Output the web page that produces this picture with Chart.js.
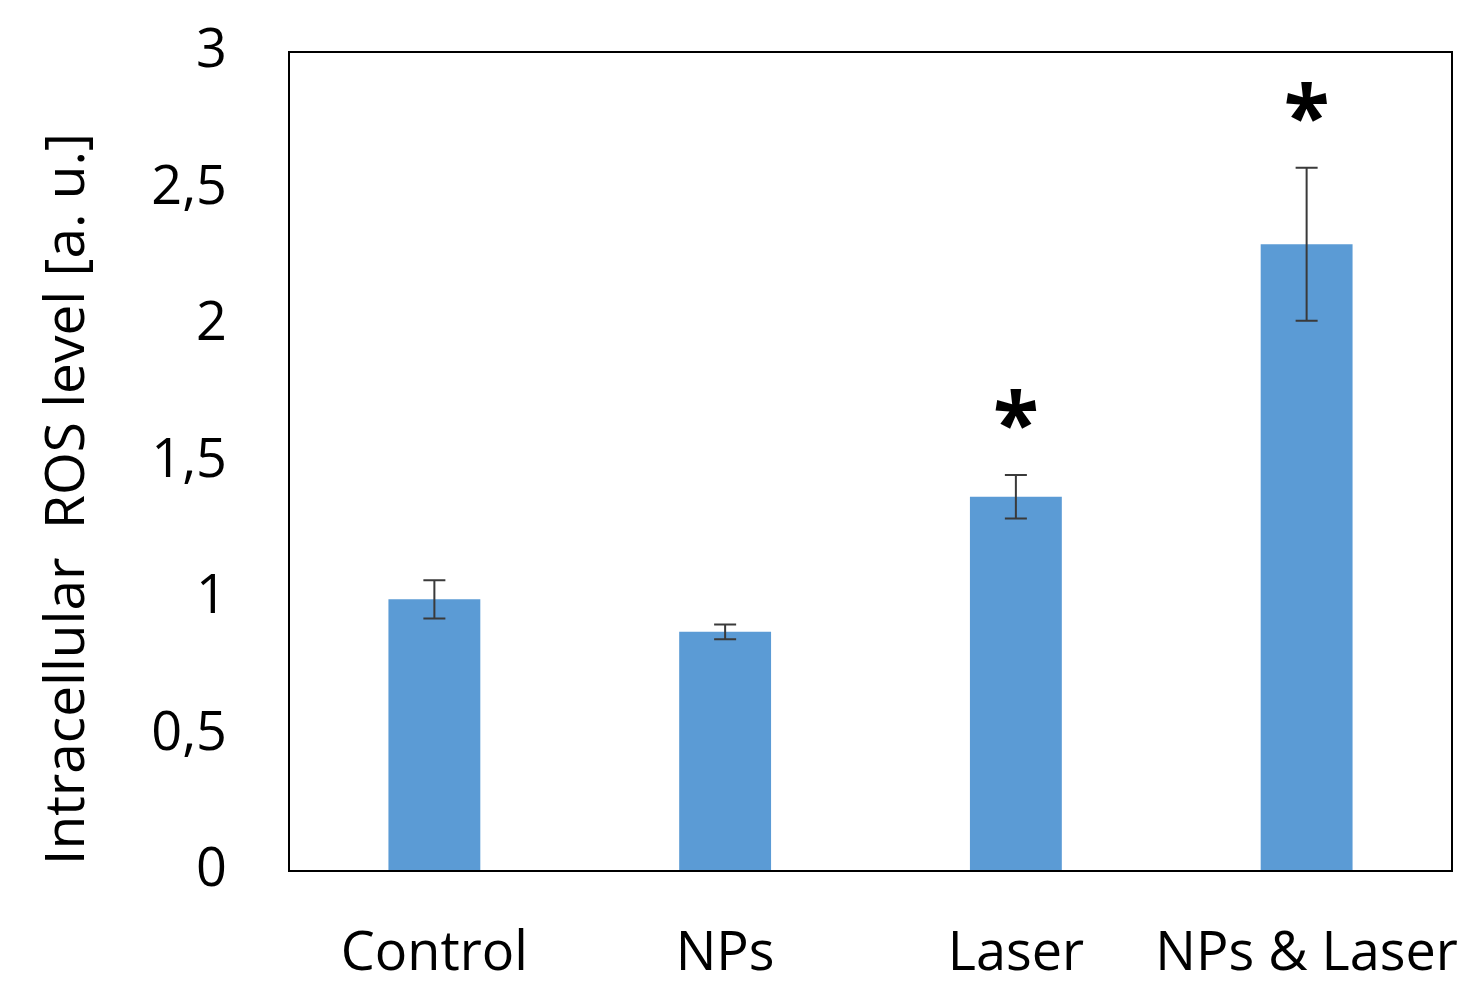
<!DOCTYPE html>
<html><head><meta charset="utf-8">
<script src="https://cdn.jsdelivr.net/npm/chart.js@4/dist/chart.umd.min.js"></script>
<style>html,body{margin:0;padding:0;background:#fff}#wrap{width:1467px;height:984px}</style>
</head><body><div id="wrap"><canvas id="c" width="1467" height="984"></canvas></div>
<script>
const categories = ['Control', 'NPs', 'Laser', 'NPs & Laser'];
const rosLevel = [0.995, 0.876, 1.371, 2.296];
const rosError = [0.07, 0.027, 0.08, 0.28];
const significance = ['', '', '*', '*'];
const yTicks = [0, 0.5, 1, 1.5, 2, 2.5, 3];
const yTitle = 'Intracellular  ROS level [a. u.]';
const FONT = '"Open Sans", Lato, sans-serif';

const extras = {
  id: 'extras',
  afterDatasetsDraw(chart) {
    const ctx = chart.ctx, y = chart.scales.y;
    const meta = chart.getDatasetMeta(0);
    ctx.save();
    ctx.strokeStyle = '#3a3a3a';
    ctx.lineWidth = 2;
    meta.data.forEach((bar, i) => {
      const v = rosLevel[i], e = rosError[i];
      const yt = y.getPixelForValue(v + e), yb = y.getPixelForValue(v - e);
      const cx = bar.x;
      ctx.beginPath();
      ctx.moveTo(cx, yt); ctx.lineTo(cx, yb);
      ctx.moveTo(cx - 11, yt); ctx.lineTo(cx + 11, yt);
      ctx.moveTo(cx - 11, yb); ctx.lineTo(cx + 11, yb);
      ctx.stroke();
      if (significance[i]) {
        ctx.fillStyle = '#000';
        ctx.font = 'bold 84px ' + FONT;
        ctx.textAlign = 'center';
        ctx.textBaseline = 'alphabetic';
        ctx.fillText(significance[i], cx, yt - 22);
      }
    });
    const a = chart.chartArea;
    ctx.strokeStyle = '#000';
    ctx.lineWidth = 2;
    ctx.strokeRect(a.left, a.top, a.right - a.left, a.bottom - a.top);
    ctx.fillStyle = '#000';
    ctx.font = '55px ' + FONT;
    ctx.translate(68, 499);
    ctx.rotate(-Math.PI / 2);
    ctx.textAlign = 'center';
    ctx.textBaseline = 'middle';
    ctx.fillText(yTitle, 0, 0);
    ctx.restore();
  }
};

new Chart(document.getElementById('c'), {
  type: 'bar',
  data: {
    labels: categories,
    datasets: [{
      data: rosLevel,
      backgroundColor: '#5B9BD5',
      borderWidth: 0,
      barPercentage: 0.316,
      categoryPercentage: 1.0
    }]
  },
  options: {
    responsive: false,
    animation: false,
    layout: { padding: { left: 0, right: 15, top: 52, bottom: 0 } },
    plugins: { legend: { display: false }, tooltip: { enabled: false } },
    scales: {
      x: {
        grid: { display: false, drawTicks: false },
        border: { display: false },
        ticks: { color: '#000', font: { family: FONT, size: 54 }, padding: 51, maxRotation: 0, autoSkip: false },
        afterFit(s) { s.height = 113; s.paddingLeft = 0; s.paddingRight = 0; }
      },
      y: {
        min: 0, max: 3,
        afterBuildTicks(s) { s.ticks = yTicks.map(v => ({ value: v })); },
        grid: { display: false, drawTicks: false },
        border: { display: false },
        ticks: {
          color: '#000', font: { family: FONT, size: 54 }, padding: 62,
          callback: v => String(v).replace('.', ',')
        },
        afterFit(s) { s.width = 289; s.paddingTop = 0; s.paddingBottom = 0; }
      }
    }
  },
  plugins: [extras]
});
</script>
</body></html>
